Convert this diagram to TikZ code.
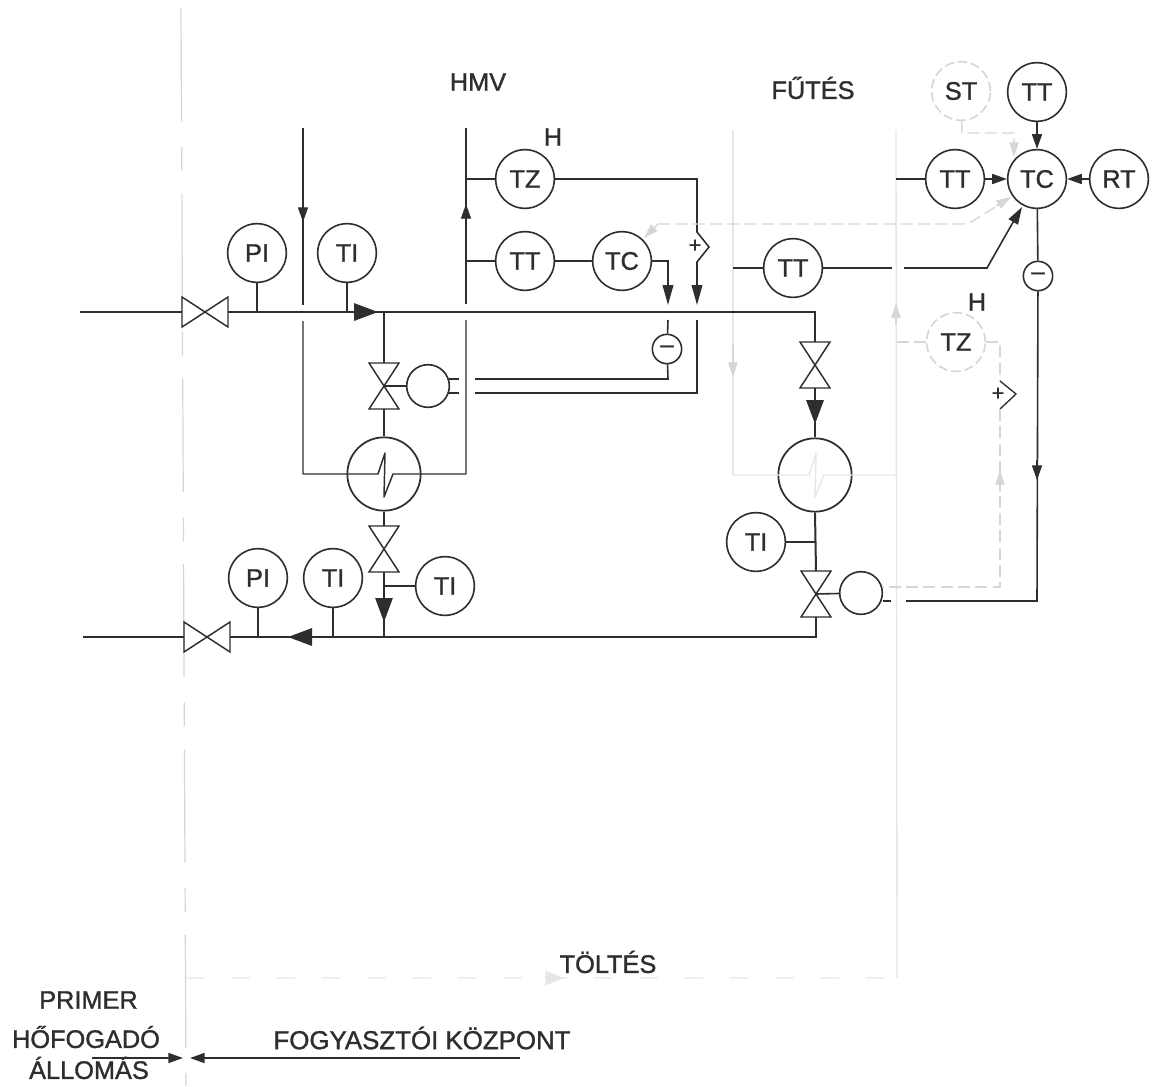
\documentclass[tikz,border=0pt]{standalone}
\usepackage{fontspec}
\setmainfont{Liberation Sans}
\newfontfamily\labfont[FakeBold=1.2]{Liberation Sans}
\usetikzlibrary{arrows.meta,calc}
\definecolor{ink}{HTML}{2E2E2E}
\definecolor{faint}{HTML}{E6E6E6}
\definecolor{vfaint}{HTML}{EFEFEF}
\definecolor{mid}{HTML}{D6D6D6}
\tikzset{
  lbl/.style={font=\labfont\fontsize{19}{21}\selectfont,text=ink,inner sep=0pt},
  inst/.style={circle,draw=ink,line width=1.2pt,minimum size=44pt,inner sep=0pt,font=\labfont\fontsize{19}{21}\selectfont,text=ink},
  instfaint/.style={inst,draw=mid,dash pattern=on 7pt off 3pt},
  act/.style={circle,draw=ink,line width=1.2pt,minimum size=32pt,inner sep=0pt},
  hx/.style={circle,draw=ink,line width=1.3pt,minimum size=55pt,inner sep=0pt},
  sumc/.style={circle,draw=ink,line width=1.2pt,minimum size=22pt,inner sep=0pt},
  sig/.style={draw=ink,line width=1.2pt},
  pipe/.style={draw=ink,line width=1.8pt},
  sec/.style={draw=ink,line width=1.1pt},
  ghost/.style={draw=faint,line width=1pt},
  ghostd/.style={draw=mid,line width=1pt,dash pattern=on 9pt off 4pt},
  border/.style={draw=mid,line width=.9pt,dash pattern=on 85pt off 19pt on 18pt off 17pt},
  bigarrow/.style={-{Triangle[length=18pt,width=13pt]},ink,line width=1.6pt},
  medarrow/.style={-{Triangle[length=15pt,width=8pt]},ink,line width=1.2pt},
  smallarrow/.style={-{Triangle[length=11pt,width=7.5pt]},ink,line width=1.2pt},
  ghostarrow/.style={-{Triangle[length=11pt,width=7pt]},mid,line width=1pt},
  plusmark/.style={font=\labfont\fontsize{16}{16}\selectfont,text=ink,inner sep=0pt},
  minusmark/.style={font=\labfont\fontsize{18}{18}\selectfont,text=ink},
}
\newcommand{\vvalve}[3]{%
  \coordinate (#1) at (#2,#3);
  \coordinate (#1-t) at (#2,#3-23);
  \coordinate (#1-b) at (#2,#3+23);
  \draw[draw=ink,line width=1.1pt,line join=miter] ($(#1)+(-15,-23)$) -- ($(#1)+(15,-23)$) -- ($(#1)+(-15,23)$) -- ($(#1)+(15,23)$) -- cycle;
}
\newcommand{\hvalve}[3]{%
  \coordinate (#1) at (#2,#3);
  \coordinate (#1-l) at (#2-23,#3);
  \coordinate (#1-r) at (#2+23,#3);
  \draw[draw=ink,line width=1.1pt,line join=miter] ($(#1)+(-23,-15)$) -- ($(#1)+(-23,15)$) -- ($(#1)+(23,-15)$) -- ($(#1)+(23,15)$) -- cycle;
}
\begin{document}
\begin{tikzpicture}[x=0.75pt,y=-0.75pt]
\useasboundingbox (0,0) rectangle (1153,1086);
\fill[white] (0,0) rectangle (1153,1086);

% junction coordinates
\coordinate (pin) at (80,312);
\coordinate (pout) at (83,637);
\coordinate (pe) at (815,312);
\coordinate (re) at (816,637);
\coordinate (j1) at (384,312);
\coordinate (j2) at (384,637);
\coordinate (sl1) at (303,128);
\coordinate (sl2) at (303,305);
\coordinate (sl3) at (303,321);
\coordinate (sl4) at (303,474);
\coordinate (sr1) at (466,128);
\coordinate (sr2) at (466,304);
\coordinate (sr3) at (466,320);
\coordinate (sr4) at (466,474);
\coordinate (b1) at (181,8);
\coordinate (b2) at (186,1086);
\coordinate (g1) at (733,130);
\coordinate (g2) at (733,475);
\coordinate (g3) at (896,130);
\coordinate (g4) at (897,978);
\coordinate (g5) at (186,978);

% borders
\draw[border] (b1) -- (b2);
\draw[ghost] (g1) -- (g2);
\draw[ghost] (g3) -- (g4);
\draw[draw=vfaint,line width=1pt,dash pattern=on 14pt off 20pt] (g5) -- (g4);
\draw[ghostarrow,draw=faint,fill=faint,-{Triangle[length=14pt,width=11pt]}] (545,978) -- (564,978);
\draw[ghostarrow] (733,345) -- (733,377);
\draw[ghostarrow] (896,325) -- (896,303);

% instruments
\node[inst] (PI1) at (257,253) {PI};
\node[inst] (TI1) at (347,253) {TI};
\node[inst] (TZ1) at (525,179) {TZ};
\node[inst] (TT1) at (525,261) {TT};
\node[inst] (TC1) at (622,261) {TC};
\node[inst] (TT2) at (793,268) {TT};
\node[inst] (TT3) at (955,179) {TT};
\node[inst] (TC2) at (1037,179) {TC};
\node[inst] (TT4) at (1037,92) {TT};
\node[instfaint] (ST) at (961,91) {ST};
\node[inst] (RT) at (1119,179) {RT};
\node[instfaint] (TZ2) at (956,342) {TZ};
\node[inst] (PI2) at (258,578) {PI};
\node[inst] (TI2) at (333,578) {TI};
\node[inst] (TI3) at (445,586) {TI};
\node[inst] (TI4) at (756,542) {TI};
\node[sumc] (m1) at (667,349) {};
\node[sumc] (m2) at (1038,276) {};
\node[minusmark] (mm1) at (m1) {–};
\node[minusmark] (mm2) at (m2) {–};
\node[act] (A1) at (428,386) {};
\node[act] (A2) at (861,593) {};
\node[hx] (H1) at (384,474) {};
\node[hx] (H2) at (815,475) {};

% valves
\hvalve{V1}{205}{312}
\hvalve{V2}{207}{637}
\vvalve{V3}{384}{386}
\vvalve{V4}{384}{549}
\vvalve{V5}{815}{365}
\vvalve{V6}{816}{594}

% main pipes
\draw[sig,line width=1.4pt] (pin) -- (V1-l);
\draw[pipe] (V1-r) -- (j1) -- (pe) -- (V5-t);
\draw[bigarrow] (350,312) -- (378,312);
\draw[sig] (j1) -- (V3-t);
\draw[sig] (V3-b) -- (H1.north);
\draw[sig,line width=1.5pt] (H1.south) -- (V4-t);
\draw[pipe] (V4-b) -- (j2);
\draw[bigarrow,line width=1.2pt] (384,598) -- (384,622);
\draw[sig,line width=1.5pt] (pout) -- (V2-l);
\draw[pipe] (V2-r) -- (j2) -- (re) -- (V6-b);
\draw[bigarrow] (314,637) -- (288,637);
\draw[pipe] (V5-b) -- (H2.north);
\draw[bigarrow] (815,398) -- (815,424);
\draw[sig,line width=1.5pt] (H2.south) -- (V6-t);

% process tapping lines
\draw[sig] (PI1) -- (PI1 |- V1);
\draw[sig] (TI1) -- (TI1 |- j1);
\draw[sig] (PI2) -- (PI2 |- j2);
\draw[sig] (TI2) -- (TI2 |- j2);
\draw[sig] (TI3) -- (TI3 -| j2);
\draw[sig] (TI4) -- (TI4 -| V6);
\draw[sig] (V3) -- (A1);
\draw[sig] (V6) -- (A2);

% secondary loop HMV
\draw[sec] (sl1) -- (sl2);
\draw[sec,line join=round] (sl3) -- (sl4) -- (378,474) -- (385,453) -- (384,497) -- (393,474) -- (sr4) -- (sr3);
\draw[sec] (sr2) -- (sr1);
\draw[smallarrow,line width=1pt] (303,204) -- (303,222);
\draw[smallarrow,line width=1pt] (466,222) -- (466,204);

% ghost loop FUTES
\draw[ghost,line join=round] (g2) -- (809,475) -- (816,453) -- (815,497) -- (824,475) -- (g2 -| g3);

% HMV control
\draw[sig] (TZ1) -- (TZ1 -| sr1);
\draw[sig] (TT1) -- (TT1 -| sr1);
\draw[sig] (TT1) -- (TC1);
\coordinate (c1) at (697,179);
\coordinate (c2) at (697,232);
\coordinate (c3) at (709,247);
\coordinate (c4) at (697,262);
\coordinate (c5) at (697,300);
\coordinate (c6) at (697,320);
\coordinate (c7) at (697,393);
\coordinate (c8) at (668,261);
\coordinate (c9) at (668,300);
\coordinate (c10) at (668,320);
\coordinate (c11) at (668,379);
\draw[sig] (TZ1) -- (c1) -- (c2) -- (c3) -- (c4) -- (c5);
\draw[medarrow] (697,285) -- (697,305);
\draw[sig] (TC1) -- (c8) -- (c9);
\draw[medarrow] (668,285) -- (668,305);
\node[plusmark] (pl1) at (695,246) {+};
\draw[sig] (c10) -- (m1);
\draw[sig] (m1) -- (c11) -- (475,379);
\draw[sig] (c6) -- (c7) -- (475,393);
\draw[sig] (449,379) -- (459,379);
\draw[sig] (449,393) -- (459,393);

% ghost control
\coordinate (d1) at (658,224);
\coordinate (d2) at (968,224);
\draw[ghostd,rounded corners=4pt] (d1) -- (d2) -- (1000,204);
\draw[ghostarrow] (996,206) -- (1011,197);
\draw[ghostarrow] (658,224) -- (644,238);
\coordinate (e1) at (962,133);
\coordinate (e2) at (1014,133);
\draw[ghostd] (ST) -- (e1) -- (e2) -- (1014,145);
\draw[ghostarrow] (1014,141) -- (1014,157);
\coordinate (f1) at (1000,342);
\coordinate (f2) at (1000,381);
\coordinate (f3) at (1016,394);
\coordinate (f4) at (1000,409);
\coordinate (f5) at (1000,587);
\draw[ghostd] (TZ2) -- (g3 |- TZ2);
\draw[ghostd] (TZ2) -- (f1) -- (f2);
\draw[sig,line width=1pt] (f2) -- (f3) -- (f4);
\node[plusmark] (pl2) at (998,394) {+};
\draw[ghostd] (f4) -- (f5) -- (883,587);
\draw[ghostarrow] (1000,492) -- (1000,470);

% main control
\draw[sig] (TT3) -- (g3 |- TT3);
\draw[smallarrow] (TT3) -- (TC2);
\draw[smallarrow] (RT) -- (TC2);
\draw[smallarrow] (TT4) -- (TC2);
\draw[sig] (TT2) -- (g1 |- TT2);
\coordinate (k1) at (987,268);
\draw[sig] (TT2.east) -- (892,268);
\draw[sig] (904,268) -- (k1) -- (1012,224);
\draw[sig,-{Triangle[length=13pt,width=8pt]}] (1012,224) -- (1022,207);
\draw[sig] (TC2) -- (m2);
\coordinate (k2) at (1037,601);
\coordinate (k3) at (906,601);
\draw[sig] (m2) -- (k2) -- (k3);
\draw[sig] (883,601) -- (891,601);
\draw[smallarrow] (1037,460) -- (1037,480);

% legend
\coordinate (l1) at (92,1058);
\coordinate (l2) at (520,1058);
\coordinate (l3) at (183,1058);
\coordinate (l4) at (190,1058);
\draw[sig,-{Triangle[length=11pt,width=7.5pt]}] (l1) -- (l3);
\draw[sig,-{Triangle[length=11pt,width=7.5pt]}] (l2) -- (l4);

% labels
\node[lbl] (t1) at (478,82) {HMV};
\node[lbl] (t2) at (813,88) {FŰTÉS};
\node[lbl] (t3) at (553,137) {H};
\node[lbl] (t4) at (977,302) {H};
\node[lbl] (t5) at (608,962) {TÖLTÉS};
\node[lbl,font=\labfont\fontsize{19.4}{21}\selectfont] (t6) at (422,1038) {FOGYASZTÓI KÖZPONT};
\node[lbl] (t7) at (88.5,1000) {PRIMER};
\node[lbl] (t8) at (86,1037) {HŐFOGADÓ};
\node[lbl] (t9) at (89,1068) {ÁLLOMÁS};
\end{tikzpicture}
\end{document}
